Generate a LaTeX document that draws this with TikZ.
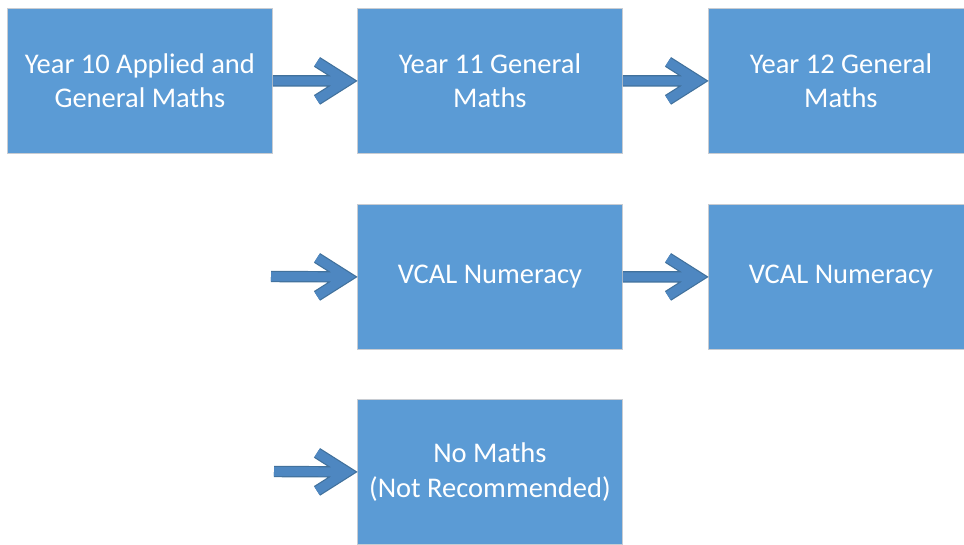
\documentclass[tikz,border=0pt]{standalone}
\usepackage{fontspec}
\setmainfont{Carlito}
\usetikzlibrary{calc}
\definecolor{boxfill}{HTML}{5B9BD5}
\definecolor{boxedge}{HTML}{C8CCD2}
\definecolor{arrfill}{HTML}{4E87C1}
\definecolor{arredge}{HTML}{41719C}
\newcommand\flowarrow[2]{%
  \draw[flow] (#1) -- ($(#2.west)+(-10,0)$)
    ($(#2.west)+(-40,-19)$) -- ($(#2.west)+(-10,0)$) -- ($(#2.west)+(-40,19)$);}
\begin{document}
\begin{tikzpicture}[x=1pt,y=-1pt,
  box/.style={rectangle, fill=boxfill, draw=boxedge, line width=0.8pt,
    minimum width=265pt, minimum height=145pt, inner sep=0pt, text=white,
    align=center, font=\fontsize{28.5}{34.5}\selectfont, anchor=north west},
  flow/.style={draw=arredge, line width=1.2pt, double=arrfill,
    double distance=9pt, line join=miter, miter limit=10}]
\useasboundingbox (0,0) rectangle (964,544);
\clip (0,0) rectangle (964,544);
\node[box] (b1) at (7,8) {Year 10 Applied and\\General Maths};
\node[box] (b2) at (357,8) {Year 11 General\\Maths};
\node[box] (b3) at (708,8) {Year 12 General\\Maths};
\node[box] (v1) at (357,204) {VCAL Numeracy};
\node[box] (v2) at (708,204) {VCAL Numeracy};
\node[box] (n1) at (357,399) {No Maths\\(Not Recommended)};
\coordinate (s2) at (271,276.5);
\coordinate (s3) at (274,471.5);
\flowarrow{b1.east}{b2}
\flowarrow{b2.east}{b3}
\flowarrow{s2}{v1}
\flowarrow{v1.east}{v2}
\flowarrow{s3}{n1}
\end{tikzpicture}
\end{document}
